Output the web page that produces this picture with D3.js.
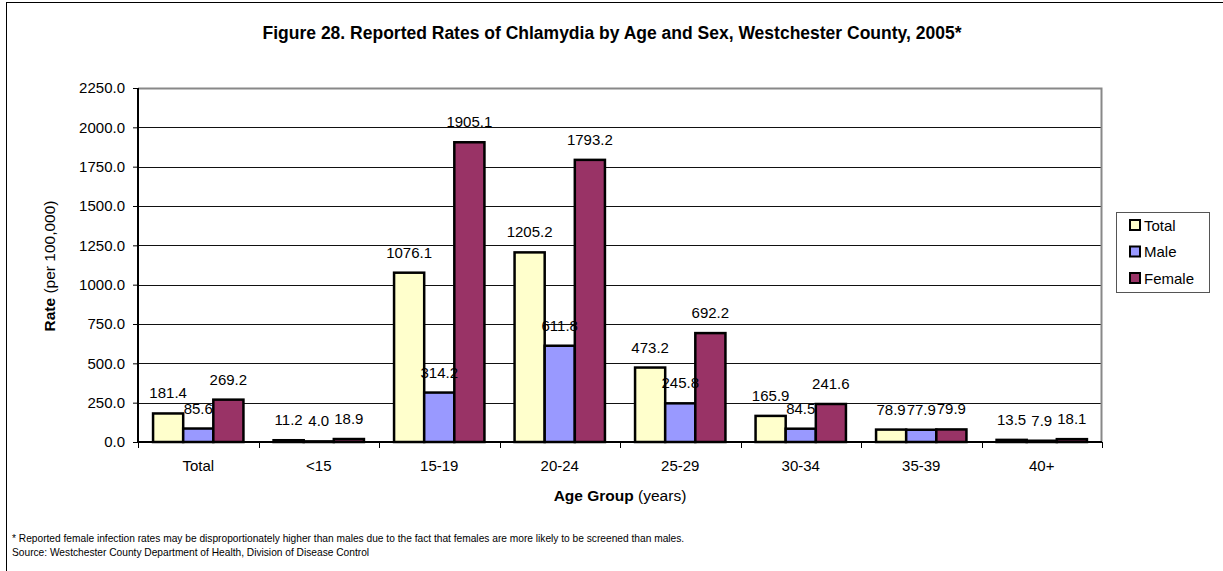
<!DOCTYPE html>
<html>
<head>
<meta charset="utf-8">
<script src="https://cdn.jsdelivr.net/npm/d3@7"></script>
<style>
  html, body { margin: 0; padding: 0; background: #fff; }
  svg { display: block; font-family: "Liberation Sans", Arial, sans-serif; }
</style>
</head>
<body>
<div id="chart"></div>
<script>
/* global d3 */
const categories = ['Total', '<15', '15-19', '20-24', '25-29', '30-34', '35-39', '40+'];
const seriesNames = ['Total', 'Male', 'Female'];
const totalValues = [181.4, 11.2, 1076.1, 1205.2, 473.2, 165.9, 78.9, 13.5];
const maleValues = [85.6, 4.0, 314.2, 611.8, 245.8, 84.5, 77.9, 7.9];
const femaleValues = [269.2, 18.9, 1905.1, 1793.2, 692.2, 241.6, 79.9, 18.1];
const yTicks = [0, 250, 500, 750, 1000, 1250, 1500, 1750, 2000, 2250];

const colors = { Total: '#ffffcc', Male: '#9999ff', Female: '#993366' };
const seriesValues = { Total: totalValues, Male: maleValues, Female: femaleValues };
const FONT = '"Liberation Sans", Arial, sans-serif';

const W = 1223, H = 571;
const margin = { top: 88, right: 121, bottom: 129, left: 138 };
const iw = W - margin.left - margin.right, ih = H - margin.top - margin.bottom;

const svg = d3.select('#chart').append('svg').attr('width', W).attr('height', H);

// outer chart border (right/bottom run off the picture)
svg.append('rect').attr('x', 6.5).attr('y', 2.5).attr('width', W + 10).attr('height', H + 10)
  .attr('fill', 'none').attr('stroke', '#000').attr('stroke-width', 1);

svg.append('text').attr('x', 612).attr('y', 39).attr('text-anchor', 'middle')
  .attr('font-size', 17.5).attr('font-weight', 700)
  .text('Figure 28. Reported Rates of Chlamydia by Age and Sex, Westchester County, 2005*');

const g = svg.append('g').attr('transform', `translate(${margin.left},${margin.top})`);

const x0 = d3.scaleBand().domain(categories).range([0, iw]);
const x1 = d3.scaleBand().domain(seriesNames).range([0, x0.bandwidth() * 0.75]);
const y = d3.scaleLinear().domain([0, 2250]).range([ih, 0]);

// gridlines
g.selectAll('.grid').data(yTicks.slice(1, -1)).join('line')
  .attr('x1', 0).attr('x2', iw).attr('y1', d => Math.round(y(d)) + 0.5).attr('y2', d => Math.round(y(d)) + 0.5)
  .attr('stroke', '#111').attr('stroke-width', 1);

// plot frame (top, right)
g.append('path').attr('d', `M0,0.5H${iw - 0.5}V${ih}`).attr('fill', 'none').attr('stroke', '#888').attr('stroke-width', 2);

// bars
const groups = g.selectAll('.cat').data(categories).join('g')
  .attr('transform', d => `translate(${x0(d) + x0.bandwidth() * 0.125},0)`);

groups.each(function (cat, ci) {
  const grp = d3.select(this);
  const rows = seriesNames.map(s => ({ s, v: seriesValues[s][ci] }));
  grp.selectAll('rect').data(rows).join('rect')
    .attr('x', d => x1(d.s)).attr('y', d => y(d.v))
    .attr('width', x1.bandwidth()).attr('height', d => ih - y(d.v))
    .attr('fill', d => colors[d.s]).attr('stroke', '#000').attr('stroke-width', 2.5);
  grp.selectAll('text').data(rows).join('text')
    .attr('x', d => x1(d.s) + x1.bandwidth() / 2).attr('y', d => y(d.v) - 15)
    .attr('text-anchor', 'middle').attr('font-size', 15).attr('fill', '#000')
    .text(d => d.v.toFixed(1));
});

// y axis
const yAxis = g.append('g').call(d3.axisLeft(y).tickValues(yTicks).tickFormat(d3.format('.1f')).tickSize(5).tickPadding(8));
yAxis.select('.domain').attr('stroke', '#000').attr('stroke-width', 2).attr('d', `M0,0V${ih}`);
yAxis.selectAll('.tick line').attr('stroke', '#000');
yAxis.selectAll('.tick text').attr('font-size', 15).attr('fill', '#000').attr('font-family', FONT);

// x axis
const xAxis = g.append('g').attr('transform', `translate(0,${ih})`)
  .call(d3.axisBottom(x0).tickSize(0).tickPadding(18));
xAxis.select('.domain').attr('stroke', '#000').attr('stroke-width', 2).attr('d', `M0,0H${iw}`);
xAxis.selectAll('.tick text').attr('font-size', 15).attr('fill', '#000').attr('font-family', FONT);
xAxis.selectAll('.sep').data(categories.concat(['end'])).join('line')
  .attr('x1', (d, i) => Math.round(i * x0.bandwidth()) + 0.5).attr('x2', (d, i) => Math.round(i * x0.bandwidth()) + 0.5)
  .attr('y1', 0).attr('y2', 6).attr('stroke', '#000');

// axis titles
const yt = svg.append('text').attr('transform', 'translate(55,266) rotate(-90)').attr('text-anchor', 'middle').attr('font-size', 15.5);
yt.append('tspan').attr('font-weight', 700).text('Rate');
yt.append('tspan').text(' (per 100,000)');

const xt = svg.append('text').attr('x', margin.left + iw / 2).attr('y', 501).attr('text-anchor', 'middle').attr('font-size', 15.5);
xt.append('tspan').attr('font-weight', 700).text('Age Group');
xt.append('tspan').text(' (years)');

// legend
const legend = svg.append('g').attr('transform', 'translate(1116,212)');
legend.append('rect').attr('x', 0.5).attr('y', 0.5).attr('width', 93).attr('height', 80)
  .attr('fill', '#fff').attr('stroke', '#555');
seriesNames.forEach((s, i) => {
  const row = legend.append('g').attr('transform', `translate(14,${13 + i * 26.5})`);
  row.append('rect').attr('x', 0).attr('y', -5).attr('width', 10).attr('height', 10)
    .attr('fill', colors[s]).attr('stroke', '#000').attr('stroke-width', 2);
  row.append('text').attr('x', 14).attr('y', 5.5).attr('font-size', 15).text(s);
});

// footnotes
svg.append('text').attr('x', 12).attr('y', 542).attr('font-size', 10.2)
  .text('* Reported female infection rates may be disproportionately higher than males due to the fact that females are more likely to be screened than males.');
svg.append('text').attr('x', 12).attr('y', 556).attr('font-size', 10.2)
  .text('Source: Westchester County Department of Health, Division of Disease Control');
</script>
</body>
</html>
